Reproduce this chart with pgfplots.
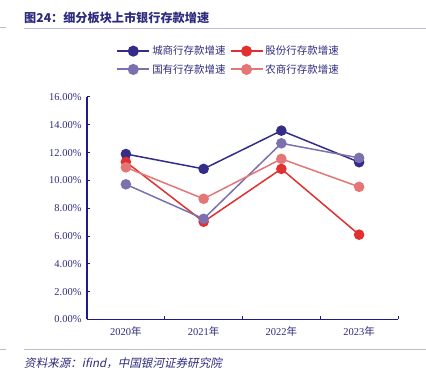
\documentclass[border=0pt]{standalone}
\usepackage{fontspec}
\setmainfont{Liberation Serif}
\newfontfamily\cjk{Noto Sans CJK SC}
\newfontfamily\cjkit[FakeSlant=0.2]{Noto Sans CJK SC}
\usepackage{pgfplots}
\pgfplotsset{compat=1.18}
\definecolor{cs}{HTML}{332C88}
\definecolor{gf}{HTML}{E0302F}
\definecolor{gy}{HTML}{7A71AE}
\definecolor{ns}{HTML}{E57676}
\definecolor{ax}{HTML}{1E1A8C}
\definecolor{tx}{HTML}{2E2B7E}
\definecolor{rule}{HTML}{BDB9D9}
\begin{document}
\begin{tikzpicture}
\path[use as bounding box] (0,0) rectangle (426bp,382bp);
\node[anchor=west,text=tx,font=\cjk\bfseries\fontsize{12.2}{13}\selectfont,inner sep=0pt] at (24bp,364bp) {图24：细分板块上市银行存款增速};
\draw[rule,line width=0.8bp] (24bp,354bp) -- (426bp,354bp);
\draw[rule,line width=0.8bp] (0bp,355bp) -- (6bp,355bp);
\draw[rule,line width=0.8bp] (24bp,33bp) -- (426bp,33bp);
\draw[rule,line width=0.8bp] (0bp,33bp) -- (6bp,33bp);
\node[anchor=west,text=tx,font=\cjkit\fontsize{11.6}{13}\selectfont,inner sep=0pt] at (24bp,19bp) {资料来源：\textit{ifind}，中国银河证券研究院};
\begin{axis}[
  at={(87bp,62.5bp)}, anchor=south west,
  width=311bp, height=222.5bp, scale only axis,
  xmin=-0.5, xmax=3.5, ymin=0, ymax=16,
  axis x line*=bottom, axis y line*=left,
  axis line style={ax,line width=1.1bp},
  xtick={-0.5,0.5,1.5,2.5,3.5}, xticklabels={},
  extra x ticks={0,1,2,3},
  extra x tick labels={2020{\cjk 年},2021{\cjk 年},2022{\cjk 年},2023{\cjk 年}},
  extra x tick style={major tick length=0pt, xticklabel style={font=\fontsize{10.5}{11}\selectfont}},
  ytick={0,2,...,16},
  yticklabel={\pgfmathprintnumber[fixed,fixed zerofill,precision=2]{\tick}\%},
  /pgf/number format/assume math mode=true,
  tick style={ax,line width=1bp},
  major tick length=3bp,
  tick align=inside,
  ticklabel style={text=tx,font=\fontsize{10.5}{11}\selectfont},
  xticklabel style={yshift=-4bp},
  yticklabel style={xshift=-2bp},
  legend columns=2,
  legend style={at={(0.455,1.165)},anchor=center,draw=none,fill=none,
    font=\cjk\fontsize{10.5}{12}\selectfont,text=tx,
    /tikz/every even column/.append style={column sep=2bp},
    row sep=4bp},
  legend image code/.code={\draw[line width=2bp,mark repeat=2,mark phase=2] plot coordinates {(0bp,0bp)(16bp,0bp)(32bp,0bp)};},
  every axis plot/.append style={line width=1.5bp, mark=*, mark size=4.5bp},
  clip=false,
]
\addplot[cs, mark options={fill=cs,draw=cs}] coordinates {(0,11.90)(1,10.83)(2,13.58)(3,11.31)};
\addlegendentry{城商行存款增速}
\addplot[gf, mark options={fill=gf,draw=gf}] coordinates {(0,11.33)(1,7.03)(2,10.83)(3,6.10)};
\addlegendentry{股份行存款增速}
\addplot[gy, mark options={fill=gy,draw=gy}] coordinates {(0,9.72)(1,7.24)(2,12.67)(3,11.62)};
\addlegendentry{国有行存款增速}
\addplot[ns, mark options={fill=ns,draw=ns}] coordinates {(0,10.94)(1,8.68)(2,11.55)(3,9.54)};
\addlegendentry{农商行存款增速}
\end{axis}
\end{tikzpicture}
\end{document}
